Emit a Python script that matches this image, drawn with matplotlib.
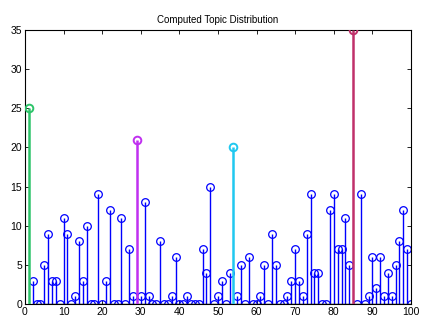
import matplotlib
matplotlib.use("Agg")
import matplotlib.pyplot as plt
import numpy as np

topics = np.arange(1, 101)
counts = [
    25, 3, 0, 0, 5, 9, 3, 3, 0, 11,
    9, 0, 1, 8, 3, 10, 0, 0, 14, 0,
    3, 12, 0, 0, 11, 0, 7, 1, 21, 1,
    13, 1, 0, 0, 8, 0, 0, 1, 6, 0,
    0, 1, 0, 0, 0, 7, 4, 15, 0, 1,
    3, 0, 4, 20, 1, 5, 0, 6, 0, 0,
    1, 5, 0, 9, 5, 0, 0, 1, 3, 7,
    3, 1, 9, 14, 4, 4, 0, 0, 12, 14,
    7, 7, 11, 5, 35, 0, 14, 0, 1, 6,
    2, 6, 1, 4, 1, 5, 8, 12, 7, 0,
]
# highlighted topics and their colours
highlight = {1: "#2ec46a", 29: "#c030f0", 54: "#20c8f0", 85: "#c0306a"}

plt.rcParams["font.family"] = ["Liberation Sans", "DejaVu Sans"]

fig = plt.figure(figsize=(4.21, 3.20), dpi=100)
ax = fig.add_axes([25 / 421, 1 - 304 / 320, 386 / 421, 274 / 320])

counts = np.array(counts)
plain = np.array([t not in highlight for t in topics])

ml, sl, bl = ax.stem(topics[plain], counts[plain], basefmt="k-")
plt.setp(ml, marker="o", markersize=5.5, markerfacecolor="none",
         markeredgecolor="blue", markeredgewidth=0.9)
plt.setp(sl, color="blue", linewidth=1.0)
plt.setp(bl, linewidth=1.0)

for t, c in highlight.items():
    v = counts[t - 1]
    ax.vlines(t, 0, v, color=c, linewidth=1.8, zorder=3)
    ax.plot(t, v, "o", markersize=5.5, markerfacecolor="none",
            markeredgecolor=c, markeredgewidth=1.4, zorder=4)

ax.set_xlim(0, 100)
ax.set_ylim(0, 35)
ax.set_xticks(np.arange(0, 101, 10))
ax.set_yticks(np.arange(0, 36, 5))
ax.tick_params(direction="in", top=True, right=True, labelsize=7.5,
               length=3, width=0.6, pad=2)
for s in ax.spines.values():
    s.set_linewidth(0.8)
ax.set_title("Computed Topic Distribution", fontsize=7, pad=5)

fig.savefig("out.png", dpi=100)
